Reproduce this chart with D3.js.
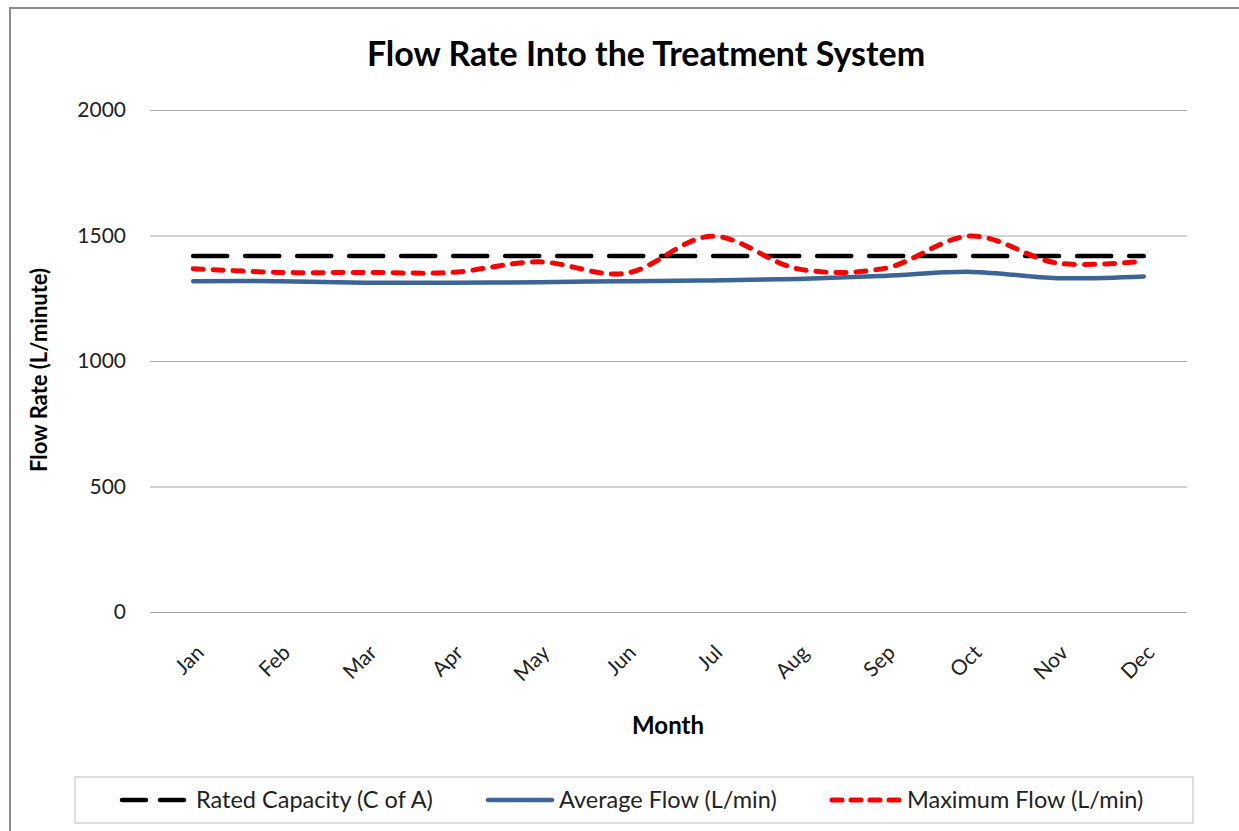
<!DOCTYPE html>
<html><head><meta charset="utf-8">
<script src="https://cdn.jsdelivr.net/npm/d3@7"></script>
<style>body{margin:0;background:#fff;} svg{display:block;} text{font-family:Lato,"Open Sans",sans-serif;}</style>
</head><body>
<svg id="c" width="1239" height="831"></svg>
<script>
const months = ["Jan","Feb","Mar","Apr","May","Jun","Jul","Aug","Sep","Oct","Nov","Dec"];
const ratedCapacity = [1418,1418,1418,1418,1418,1418,1418,1418,1418,1418,1418,1418];
const averageFlow = [1318,1318,1312,1312,1314,1318,1321,1327,1339,1355,1330,1337];
const maximumFlow = [1368,1353,1353,1353,1395,1349,1497,1367,1369,1498,1390,1398];
const yTicks = [0,500,1000,1500,2000];
const seriesNames = ["Rated Capacity (C of A)","Average Flow (L/min)","Maximum Flow (L/min)"];

const svg = d3.select("#c");
const m = {l:150, r:1187, t:110, b:612};
const x = d3.scaleBand().domain(months).range([m.l, m.r]);
const y = d3.scaleLinear().domain([0,2000]).range([m.b, m.t]);

// outer frame
svg.append("rect").attr("x",10).attr("y",8).attr("width",1240).attr("height",840)
  .attr("fill","#fff").attr("stroke","#8c8c8c").attr("stroke-width",2);

// title
svg.append("text").attr("x",646).attr("y",66).attr("text-anchor","middle")
  .attr("font-size",34).attr("font-weight","bold").attr("fill","#000")
  .text("Flow Rate Into the Treatment System");

// gridlines + y axis
const yAxis = d3.axisLeft(y).tickValues(yTicks).tickFormat(d3.format("d")).tickSize(-(m.r-m.l)).tickPadding(24);
const gy = svg.append("g").attr("transform",`translate(${m.l},0)`).call(yAxis);
gy.select(".domain").remove();
gy.selectAll(".tick line").attr("stroke","#a6a6a6").attr("stroke-width",1.2);
gy.selectAll(".tick text").attr("font-size",21).attr("fill","#222").attr("font-family","Lato,'Open Sans',sans-serif");

// x axis labels
const xAxis = d3.axisBottom(x).tickSize(0).tickPadding(0);
const gx = svg.append("g").attr("transform",`translate(0,${m.b})`).call(xAxis);
gx.select(".domain").remove();
gx.selectAll(".tick text").attr("font-size",21).attr("fill","#222")
  .attr("font-family","Lato,'Open Sans',sans-serif")
  .attr("text-anchor","end").attr("dy",0).attr("y",0)
  .attr("transform","translate(12,42) rotate(-45)");

// axis titles
svg.append("text").attr("transform","translate(47,370) rotate(-90)").attr("text-anchor","middle")
  .attr("font-size",22).attr("font-weight","bold").text("Flow Rate (L/minute)");
svg.append("text").attr("x",668).attr("y",734).attr("text-anchor","middle")
  .attr("font-size",24).attr("font-weight","bold").text("Month");

const line = d3.line().x((d,i)=>x(months[i])+x.bandwidth()/2).y(d=>y(d)).curve(d3.curveCatmullRom.alpha(0.5));

svg.append("path").datum(averageFlow).attr("d",line).attr("fill","none")
  .attr("stroke","#3C6494").attr("stroke-width",4.5).attr("stroke-linecap","round");
svg.append("path").datum(ratedCapacity).attr("d",line).attr("fill","none")
  .attr("stroke","#000").attr("stroke-width",4.5).attr("stroke-linecap","round")
  .attr("stroke-dasharray","34,18");
svg.append("path").datum(maximumFlow).attr("d",line).attr("fill","none")
  .attr("stroke","#ff0000").attr("stroke-width",5).attr("stroke-linecap","round")
  .attr("stroke-dasharray","10,10");

// legend
const lg = svg.append("g");
lg.append("rect").attr("x",75).attr("y",777).attr("width",1118).attr("height",46)
  .attr("fill","#fff").attr("stroke","#c8c8c8").attr("stroke-width",1.2);
const items = [
  {sx:122, ex:188, tx:196, color:"#000", dash:"24,14", w:4.5},
  {sx:488, ex:552, tx:559, color:"#3C6494", dash:null, w:4.5},
  {sx:832, ex:900, tx:907, color:"#ff0000", dash:"10,9", w:5}
];
items.forEach((it,i)=>{
  const p = lg.append("line").attr("x1",it.sx).attr("x2",it.ex).attr("y1",800).attr("y2",800)
    .attr("stroke",it.color).attr("stroke-width",it.w).attr("stroke-linecap","round");
  if(it.dash) p.attr("stroke-dasharray",it.dash);
  lg.append("text").attr("x",it.tx).attr("y",808).attr("font-size",23.5).attr("fill","#222").text(seriesNames[i]);
});
</script>
</body></html>
